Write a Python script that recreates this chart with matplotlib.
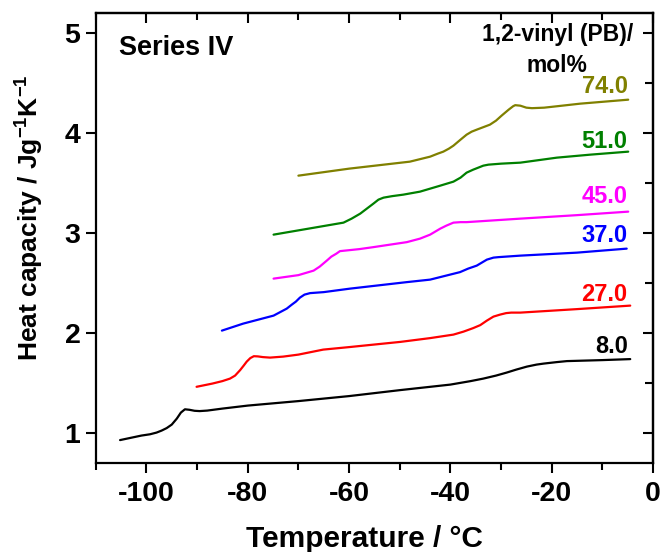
import matplotlib
matplotlib.use("Agg")
import matplotlib.pyplot as plt
from matplotlib.ticker import MultipleLocator

plt.rcParams['font.family'] = ['Liberation Sans', 'DejaVu Sans']
plt.rcParams['font.weight'] = 'bold'
plt.rcParams['axes.unicode_minus'] = False
plt.rcParams['mathtext.fontset'] = 'custom'
plt.rcParams['mathtext.rm'] = 'Liberation Sans:bold'
plt.rcParams['mathtext.bf'] = 'Liberation Sans:bold'
plt.rcParams['mathtext.it'] = 'Liberation Sans:bold'
plt.rcParams['mathtext.default'] = 'bf'

# ---- data ----
labels = ["8.0", "27.0", "37.0", "45.0", "51.0", "74.0"]
colors = ["#000000", "#FF0000", "#0000FF", "#FF00FF", "#008000", "#808000"]

x_8 = [-105.2, -101, -99.3, -98, -97, -96, -95, -94, -93.2, -92.4, -91.5, -90.5, -89.5, -88,
       -85, -80, -70, -60, -49.9, -40, -36, -33.5, -31, -28.9, -27, -24.9, -23, -21.6, -19,
       -17, -10, -4.5]
y_8 = [0.925, 0.97, 0.983, 1.0, 1.02, 1.045, 1.08, 1.14, 1.20, 1.233, 1.228, 1.218, 1.215, 1.22,
       1.24, 1.27, 1.315, 1.365, 1.425, 1.48, 1.515, 1.54, 1.57, 1.60, 1.63, 1.66, 1.68, 1.69, 1.705,
       1.715, 1.725, 1.735]

x_27 = [-90.1, -87, -85, -83.5, -82.5, -81.5, -80.8, -80.2, -79.5, -78.8, -78, -77, -75.6, -73,
        -70, -65.1, -60, -49.9, -44, -39.4, -37.4, -35.5, -34.1, -32.8, -31.5, -30.2, -29, -28,
        -26.2, -15, -4.5]
y_27 = [1.458, 1.49, 1.515, 1.54, 1.57, 1.625, 1.67, 1.71, 1.745, 1.764, 1.762, 1.755, 1.75, 1.76,
        1.78, 1.83, 1.855, 1.907, 1.945, 1.98, 2.01, 2.045, 2.075, 2.12, 2.16, 2.18, 2.195, 2.20,
        2.20, 2.235, 2.27]

x_37 = [-85.1, -80.9, -74.9, -72.3, -71.3, -70.5, -69.7, -68.8, -67.7, -65, -59.8, -48.6, -44,
        -38.1, -36.5, -34.8, -33.8, -32.8, -31.5, -30.5, -26.2, -15, -5.2]
y_37 = [2.02, 2.09, 2.17, 2.24, 2.28, 2.31, 2.35, 2.38, 2.395, 2.405, 2.44, 2.505, 2.53,
        2.605, 2.64, 2.67, 2.70, 2.73, 2.75, 2.755, 2.77, 2.80, 2.84]

x_45 = [-74.9, -70, -67, -65.8, -64.4, -63.5, -62.5, -61.8, -58, -55.2, -48.6, -46, -44, -43,
        -42, -40.8, -39.4, -38, -36.8, -26.2, -15, -4.9]
y_45 = [2.54, 2.575, 2.62, 2.66, 2.72, 2.76, 2.79, 2.815, 2.835, 2.855, 2.905, 2.94, 2.98, 3.01,
        3.04, 3.07, 3.10, 3.105, 3.105, 3.14, 3.175, 3.21]

x_51 = [-74.9, -68, -61.1, -59.5, -57.8, -56.5, -55.2, -54.2, -53.2, -51.5, -49.3, -46, -42,
        -39.4, -38, -36.8, -35.5, -34.5, -33.5, -32.5, -30, -26.2, -19, -12.4, -4.9]
y_51 = [2.98, 3.04, 3.10, 3.14, 3.19, 3.24, 3.29, 3.33, 3.35, 3.365, 3.38, 3.41, 3.47,
        3.51, 3.55, 3.60, 3.63, 3.65, 3.67, 3.68, 3.69, 3.70, 3.75, 3.78, 3.81]

x_74 = [-70, -60, -48, -44, -42.5, -41.4, -40.3, -39.4, -38, -36.8, -35.8, -34.8, -33.5, -32.2,
        -31, -29.9, -28.5, -27.6, -27.2, -26.2, -25, -23.9, -21.5, -19.7, -14.4, -4.9]
y_74 = [3.57, 3.64, 3.71, 3.76, 3.79, 3.81, 3.84, 3.87, 3.93, 3.98, 4.01, 4.03, 4.055, 4.08,
        4.12, 4.17, 4.23, 4.265, 4.275, 4.27, 4.25, 4.245, 4.25, 4.26, 4.29, 4.33]

label_y = [1.86, 2.38, 2.97, 3.365, 3.91, 4.46]

xs = [x_8, x_27, x_37, x_45, x_51, x_74]
ys = [y_8, y_27, y_37, y_45, y_51, y_74]

# ---- figure ----
fig = plt.figure(figsize=(6.65, 5.52), dpi=100)
ax = fig.add_axes([0.144, 0.162, 0.838, 0.815])

for x, y, c in zip(xs, ys, colors):
    ax.plot(x, y, color=c, lw=1.6, solid_joinstyle='round', solid_capstyle='round')

for lab, ly, c in zip(labels, label_y, colors):
    ax.text(-5, ly, lab, color=c, fontsize=17, fontweight='bold', ha='right', va='center')

ax.text(-105.4, 4.85, "Series IV", fontsize=19.5, fontweight='bold', ha='left', va='center')
ax.text(-18.9, 4.98, "1,2-vinyl (PB)/", fontsize=16.5, fontweight='bold', ha='center', va='center')
ax.text(-18.9, 4.67, "mol%", fontsize=16.5, fontweight='bold', ha='center', va='center')

ax.set_xlim(-110, 0)
ax.set_ylim(0.7, 5.2)
ax.xaxis.set_major_locator(MultipleLocator(20))
ax.xaxis.set_minor_locator(MultipleLocator(10))
ax.yaxis.set_major_locator(MultipleLocator(1))
ax.yaxis.set_minor_locator(MultipleLocator(0.5))

for s in ax.spines.values():
    s.set_linewidth(1.6)

ax.tick_params(axis='x', which='both', direction='out', bottom=True, top=False,
               width=1.5, labelsize=20.5, pad=6)
ax.tick_params(axis='x', which='major', length=7)
ax.tick_params(axis='x', which='minor', length=5)
ax.tick_params(axis='y', which='major', direction='out', left=True, right=False,
               length=7, width=1.5, labelsize=20.5, pad=4)
ax.tick_params(axis='y', which='minor', left=False, right=False)

# inward ticks on top and right
secx = ax.secondary_xaxis('top')
secx.xaxis.set_major_locator(MultipleLocator(20))
secx.xaxis.set_minor_locator(MultipleLocator(10))
secx.tick_params(which='both', direction='in', width=1.5, labeltop=False)
secx.tick_params(which='major', length=7)
secx.tick_params(which='minor', length=5)
secx.spines['top'].set_linewidth(1.6)
secy = ax.secondary_yaxis('right')
secy.yaxis.set_major_locator(MultipleLocator(1))
secy.yaxis.set_minor_locator(MultipleLocator(0.5))
secy.tick_params(which='both', direction='in', width=1.5, labelright=False)
secy.tick_params(which='major', length=7)
secy.tick_params(which='minor', length=6)
secy.spines['right'].set_linewidth(1.6)

for lbl in ax.get_xticklabels() + ax.get_yticklabels():
    lbl.set_fontweight('bold')

ax.set_xlabel("Temperature / \u00b0C", fontsize=21.5, fontweight='bold', va='baseline')
ax.xaxis.set_label_coords(0.483, -0.187)
ax.set_ylabel(r"Heat capacity / Jg$^{-1}$K$^{-1}$", fontsize=19, fontweight='bold',
              va='baseline')
ax.yaxis.set_label_coords(-0.103, 0.545)

fig.savefig("out.png", dpi=100)
